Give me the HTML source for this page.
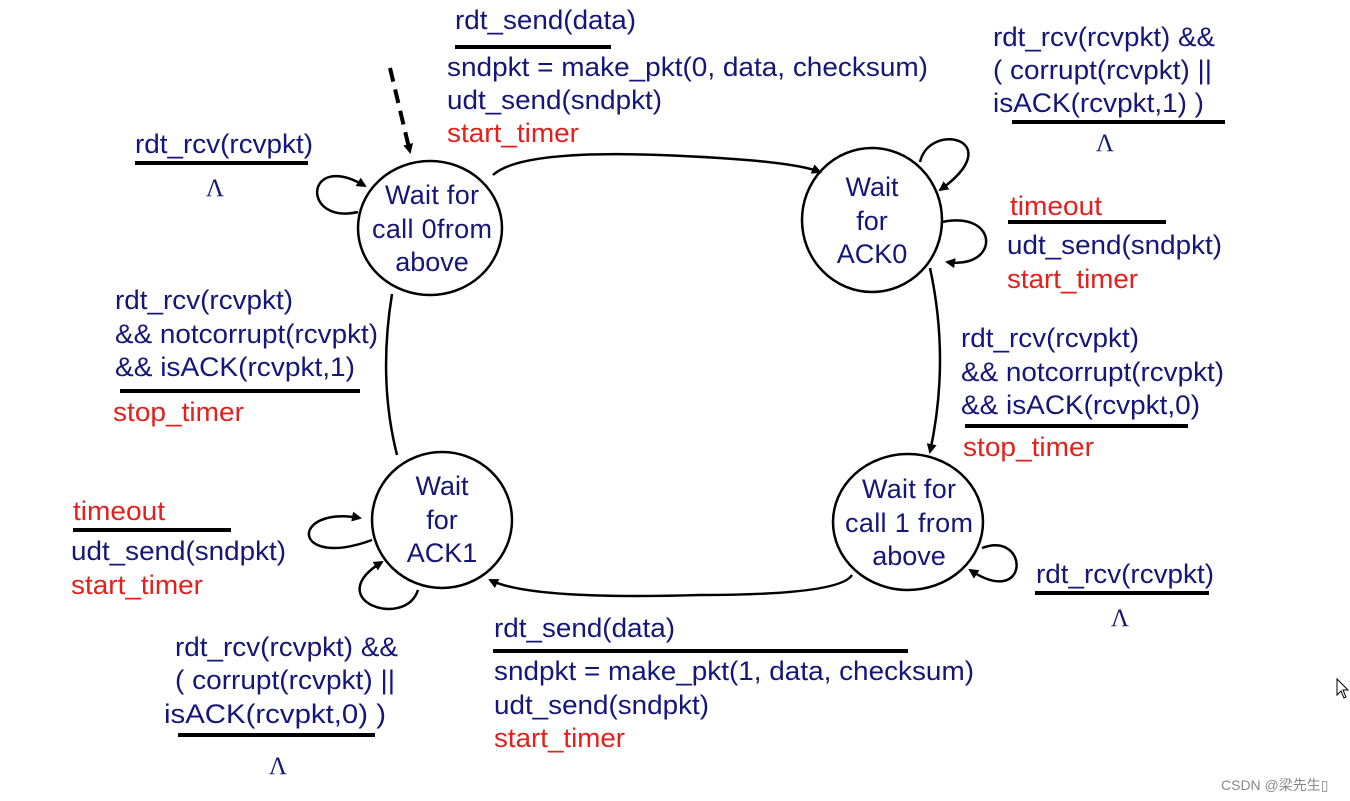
<!DOCTYPE html>
<html><head><meta charset="utf-8"><style>
html,body{margin:0;padding:0;background:#fff;}
svg{display:block}
.t{font-family:"Liberation Sans",Arial,sans-serif;font-size:27px;fill:#15157a}
.r{fill:#e4201c}
.c{text-anchor:middle}
.l{font-family:"Liberation Serif",serif;font-size:25px;fill:#15157a;text-anchor:middle}
</style></head><body>
<svg width="1350" height="801" viewBox="0 0 1350 801" xmlns="http://www.w3.org/2000/svg">
<defs><marker id="a" markerWidth="10" markerHeight="10" refX="8" refY="5" orient="auto" markerUnits="userSpaceOnUse"><path d="M0,0 L10,5 L0,10 Z" fill="#000"/></marker></defs>
<g fill="none" stroke="#000" stroke-width="2.5">
<ellipse cx="430" cy="228" rx="72" ry="67"/>
<ellipse cx="872" cy="220" rx="70" ry="72"/>
<ellipse cx="442" cy="520" rx="70" ry="68"/>
<ellipse cx="908" cy="522" rx="75" ry="68"/>
<path d="M390,68 L410,152" stroke-dasharray="14,8" stroke-width="4" marker-end="url(#a)"/>
<path d="M493,175 Q520,150 660,155 Q790,160 820,172" marker-end="url(#a)"/>
<path d="M930,268 Q950,360 930,452" marker-end="url(#a)"/>
<path d="M852,575 Q840,595 700,595 Q530,600 490,580" marker-end="url(#a)"/>
<path d="M397,455 Q378,380 392,294"/>
<path d="M358,212 C300,225 305,150 365,186" marker-end="url(#a)"/>
<path d="M920,162 C930,120 1010,140 940,190" marker-end="url(#a)"/>
<path d="M942,222 C1000,210 1000,270 947,262" marker-end="url(#a)"/>
<path d="M372,540 C290,570 290,505 360,518" marker-end="url(#a)"/>
<path d="M418,590 C405,630 320,600 382,562" marker-end="url(#a)"/>
<path d="M982,548 C1030,530 1030,610 970,570" marker-end="url(#a)"/>
</g>
<g stroke="#000" stroke-width="4">
<line x1="455" y1="47" x2="611" y2="47"/>
<line x1="1012" y1="122" x2="1225" y2="122"/>
<line x1="1008" y1="222" x2="1166" y2="222"/>
<line x1="135" y1="163" x2="308" y2="163"/>
<line x1="120" y1="391" x2="360" y2="391"/>
<line x1="965" y1="426" x2="1188" y2="426"/>
<line x1="73" y1="530" x2="231" y2="530"/>
<line x1="178" y1="735" x2="375" y2="735"/>
<line x1="493" y1="651" x2="908" y2="651"/>
<line x1="1035" y1="593" x2="1209" y2="593"/>
</g>
<g class="t">
<text x="432" y="204" class="c" textLength="94">Wait for</text>
<text x="432" y="238" class="c" textLength="120">call 0from</text>
<text x="432" y="271" class="c">above</text>
<text x="872" y="196" class="c">Wait</text>
<text x="872" y="230" class="c">for</text>
<text x="872" y="263" class="c">ACK0</text>
<text x="442" y="495" class="c">Wait</text>
<text x="442" y="529" class="c">for</text>
<text x="442" y="562" class="c">ACK1</text>
<text x="909" y="498" class="c" textLength="94">Wait for</text>
<text x="909" y="532" class="c" textLength="128">call 1 from</text>
<text x="909" y="565" class="c">above</text>

<text x="455" y="29" textLength="181" lengthAdjust="spacingAndGlyphs">rdt_send(data)</text>
<text x="447" y="76" textLength="481" lengthAdjust="spacingAndGlyphs">sndpkt = make_pkt(0, data, checksum)</text>
<text x="447" y="109" textLength="215" lengthAdjust="spacingAndGlyphs">udt_send(sndpkt)</text>
<text x="447" y="142" class="r" textLength="132" lengthAdjust="spacingAndGlyphs">start_timer</text>

<text x="993" y="46" textLength="222" lengthAdjust="spacingAndGlyphs">rdt_rcv(rcvpkt) &amp;&amp;</text>
<text x="993" y="79" textLength="219" lengthAdjust="spacingAndGlyphs">( corrupt(rcvpkt) ||</text>
<text x="993" y="112" textLength="211" lengthAdjust="spacingAndGlyphs">isACK(rcvpkt,1) )</text>

<text x="1010" y="215" class="r" textLength="92" lengthAdjust="spacingAndGlyphs">timeout</text>
<text x="1007" y="254" textLength="215" lengthAdjust="spacingAndGlyphs">udt_send(sndpkt)</text>
<text x="1007" y="288" class="r" textLength="131" lengthAdjust="spacingAndGlyphs">start_timer</text>

<text x="135" y="153" textLength="178" lengthAdjust="spacingAndGlyphs">rdt_rcv(rcvpkt)</text>

<text x="115" y="309" textLength="178" lengthAdjust="spacingAndGlyphs">rdt_rcv(rcvpkt)</text>
<text x="115" y="343" textLength="263" lengthAdjust="spacingAndGlyphs">&amp;&amp; notcorrupt(rcvpkt)</text>
<text x="115" y="376" textLength="240" lengthAdjust="spacingAndGlyphs">&amp;&amp; isACK(rcvpkt,1)</text>
<text x="113" y="421" class="r" textLength="131" lengthAdjust="spacingAndGlyphs">stop_timer</text>

<text x="961" y="347" textLength="178" lengthAdjust="spacingAndGlyphs">rdt_rcv(rcvpkt)</text>
<text x="961" y="381" textLength="263" lengthAdjust="spacingAndGlyphs">&amp;&amp; notcorrupt(rcvpkt)</text>
<text x="961" y="414" textLength="239" lengthAdjust="spacingAndGlyphs">&amp;&amp; isACK(rcvpkt,0)</text>
<text x="963" y="456" class="r" textLength="131" lengthAdjust="spacingAndGlyphs">stop_timer</text>

<text x="73" y="520" class="r" textLength="92" lengthAdjust="spacingAndGlyphs">timeout</text>
<text x="71" y="560" textLength="215" lengthAdjust="spacingAndGlyphs">udt_send(sndpkt)</text>
<text x="71" y="594" class="r" textLength="132" lengthAdjust="spacingAndGlyphs">start_timer</text>

<text x="175" y="656" textLength="223" lengthAdjust="spacingAndGlyphs">rdt_rcv(rcvpkt) &amp;&amp;</text>
<text x="175" y="689" textLength="220" lengthAdjust="spacingAndGlyphs">( corrupt(rcvpkt) ||</text>
<text x="164" y="723" textLength="222" lengthAdjust="spacingAndGlyphs">isACK(rcvpkt,0) )</text>

<text x="494" y="637" textLength="181" lengthAdjust="spacingAndGlyphs">rdt_send(data)</text>
<text x="494" y="680" textLength="480" lengthAdjust="spacingAndGlyphs">sndpkt = make_pkt(1, data, checksum)</text>
<text x="494" y="714" textLength="215" lengthAdjust="spacingAndGlyphs">udt_send(sndpkt)</text>
<text x="494" y="747" class="r" textLength="131" lengthAdjust="spacingAndGlyphs">start_timer</text>

<text x="1036" y="583" textLength="178" lengthAdjust="spacingAndGlyphs">rdt_rcv(rcvpkt)</text>
</g>
<g class="l">
<text x="1105" y="151">Λ</text>
<text x="215" y="196">Λ</text>
<text x="278" y="774">Λ</text>
<text x="1120" y="626">Λ</text>
</g>
<path d="M1337,679 L1337,695 L1341,691 L1344,698 L1346,697 L1343,690 L1348,690 Z" fill="#fff" stroke="#000" stroke-width="1"/>
<text x="1221" y="790" style="font-family:'Liberation Sans','Noto Sans CJK SC',sans-serif;font-size:14px;fill:#888">CSDN @梁先生▯</text>
</svg>
</body></html>
